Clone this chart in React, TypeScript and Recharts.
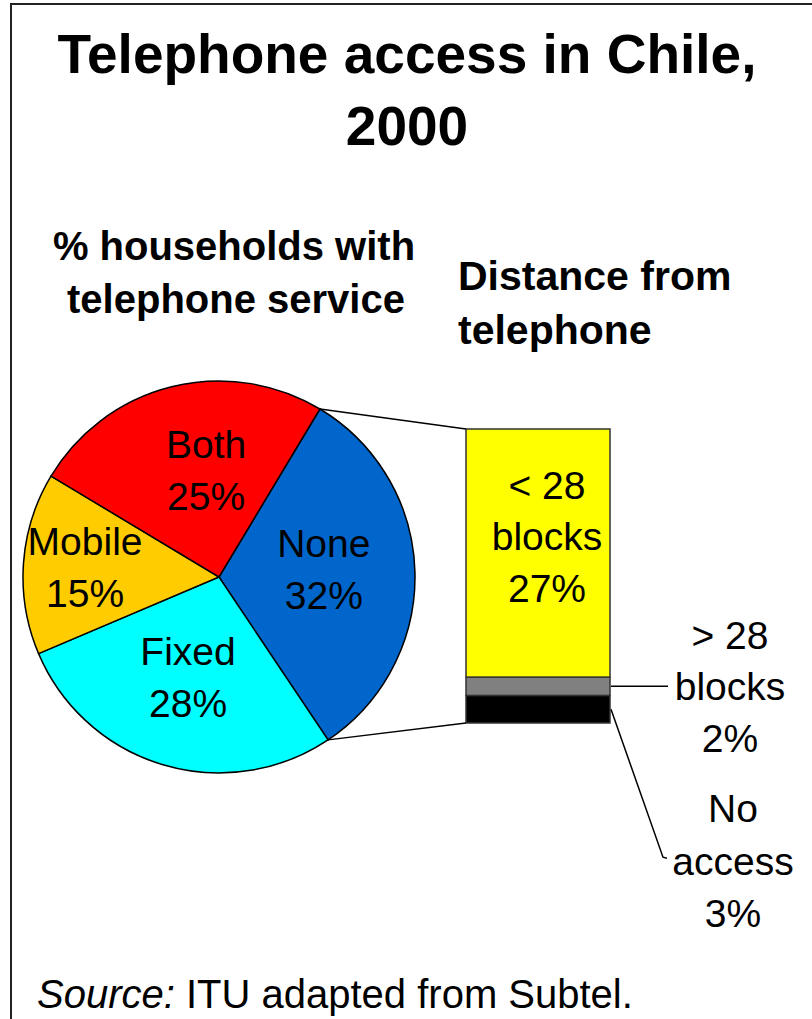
import React from "react";
import { PieChart, Pie, Cell, BarChart, Bar, XAxis, YAxis } from "recharts";

// % households with telephone service (pie, drawn clockwise from the top-right)
const ACCESS_LABELS = ["None", "Fixed", "Mobile", "Both"];
const ACCESS_SHARES = [32, 28, 15, 25];
const ACCESS_COLORS = ["#0066CC", "#00FFFF", "#FFCC00", "#FF0000"];

// distance from telephone, breaking down the "None" slice
const DISTANCE_KEYS = ["noAccess", "over28", "under28"];
const DISTANCE_LINES = [["No", "access"], ["> 28", "blocks"], ["< 28", "blocks"]];
const DISTANCE_SHARES = [3, 2, 27];
const DISTANCE_COLORS = ["#000000", "#808080", "#FFFF00"];

const FONT = "'Liberation Sans', Arial, sans-serif";
const W = 812;
const H = 1019;

// pie geometry
const CX = 219;
const CY = 577;
const R = 196;
const START = 59;
const RAD = Math.PI / 180;
// label radius / angle nudge per slice
const LABEL_POLAR: [number, number][] = [
  [105, -4.7],
  [118, 1.4],
  [134, 5.7],
  [94, -6.1],
];

// bar plot area
const BAR_LEFT = 466;
const BAR_RIGHT = 610;
const BAR_TOP = 429;
const BAR_BOTTOM = 723;

const pieData = ACCESS_LABELS.map((name, i) => ({ name, value: ACCESS_SHARES[i] }));
const barRow: Record<string, number | string> = { name: "distance" };
DISTANCE_KEYS.forEach((k, i) => {
  barRow[k] = DISTANCE_SHARES[i];
});
const barTotal = DISTANCE_SHARES.reduce((a, b) => a + b, 0);
const pieTotal = ACCESS_SHARES.reduce((a, b) => a + b, 0);

function renderSliceLabel(props: any) {
  const { midAngle, index } = props;
  const [r, da] = LABEL_POLAR[index];
  const a = (midAngle + da) * RAD;
  const x = CX + r * Math.cos(a);
  const y = CY - r * Math.sin(a);
  return (
    <text textAnchor="middle" fontSize={39} fontFamily={FONT} fill="#000">
      <tspan x={x} y={y - 26}>{ACCESS_LABELS[index]}</tspan>
      <tspan x={x} y={y + 26}>{ACCESS_SHARES[index]}%</tspan>
    </text>
  );
}

function segmentRect(p: any, fill: string) {
  return (
    <rect
      x={p.x}
      y={p.y}
      width={p.width}
      height={p.height}
      fill={fill}
      stroke="#333"
      strokeWidth={1.5}
    />
  );
}

function makeShape(i: number) {
  return (p: any) => {
    const right = p.x + p.width;
    const mid = p.y + p.height / 2;
    const share = DISTANCE_SHARES[i];
    const [l1, l2] = DISTANCE_LINES[i];
    const textProps = { textAnchor: "middle" as const, fontSize: 39, fontFamily: FONT, fill: "#000" };
    if (i === 2) {
      const tx = p.x + p.width / 2 + 9;
      return (
        <g>
          {segmentRect(p, DISTANCE_COLORS[i])}
          <text {...textProps}>
            <tspan x={tx} y={mid - 54}>{l1}</tspan>
            <tspan x={tx} y={mid - 3}>{l2}</tspan>
            <tspan x={tx} y={mid + 49}>{share}%</tspan>
          </text>
        </g>
      );
    }
    if (i === 1) {
      const tx = right + 120;
      return (
        <g>
          {segmentRect(p, DISTANCE_COLORS[i])}
          <line x1={right + 1} y1={mid} x2={right + 58} y2={mid} stroke="#000" strokeWidth={1.5} />
          <text {...textProps}>
            <tspan x={tx} y={mid - 37}>{l1}</tspan>
            <tspan x={tx} y={mid + 14}>{l2}</tspan>
            <tspan x={tx} y={mid + 66}>{share}%</tspan>
          </text>
        </g>
      );
    }
    const tx = right + 123;
    return (
      <g>
        {segmentRect(p, DISTANCE_COLORS[i])}
        <polyline
          points={`${right + 1},${mid} ${right + 53},${mid + 148} ${right + 57},${mid + 149}`}
          fill="none"
          stroke="#000"
          strokeWidth={1.5}
        />
        <text {...textProps}>
          <tspan x={tx} y={mid + 113}>{l1}</tspan>
          <tspan x={tx} y={mid + 166}>{l2}</tspan>
          <tspan x={tx} y={mid + 218}>{share}%</tspan>
        </text>
      </g>
    );
  };
}

export default function App() {
  const sweep = (360 * ACCESS_SHARES[0]) / pieTotal;
  const a0 = START * RAD;
  const a1 = (START - sweep) * RAD;
  const p0 = [CX + R * Math.cos(a0), CY - R * Math.sin(a0)];
  const p1 = [CX + R * Math.cos(a1), CY - R * Math.sin(a1)];
  const layer: React.CSSProperties = { position: "absolute", left: 0, top: 0 };

  return (
    <div style={{ position: "absolute", left: 0, top: 0, width: W, height: H, background: "#fff", overflow: "hidden" }}>
      <div style={layer}>
        <PieChart width={W} height={H} margin={{ top: 0, right: 0, bottom: 0, left: 0 }}>
          <Pie
            data={pieData}
            dataKey="value"
            nameKey="name"
            cx={CX}
            cy={CY}
            outerRadius={R}
            startAngle={START}
            endAngle={START - 360}
            stroke="#000"
            strokeWidth={1.5}
            label={renderSliceLabel}
            labelLine={false}
            isAnimationActive={false}
          >
            {pieData.map((d, i) => (
              <Cell key={d.name} fill={ACCESS_COLORS[i]} />
            ))}
          </Pie>
        </PieChart>
      </div>

      <div style={layer}>
        <BarChart
          width={W}
          height={H}
          data={[barRow]}
          margin={{ top: BAR_TOP, left: BAR_LEFT, right: W - BAR_RIGHT, bottom: H - BAR_BOTTOM }}
          barCategoryGap={0}
          barGap={0}
        >
          <XAxis dataKey="name" type="category" hide />
          <YAxis type="number" domain={[0, barTotal]} hide />
          {DISTANCE_KEYS.map((k, i) => (
            <Bar
              key={k}
              dataKey={k}
              stackId="d"
              fill={DISTANCE_COLORS[i]}
              shape={makeShape(i)}
              isAnimationActive={false}
            />
          ))}
        </BarChart>
      </div>

      <svg width={W} height={H} style={{ ...layer, pointerEvents: "none" }}>
        {/* frame */}
        <polyline points={`${W},4 11,4 11,${H}`} fill="none" stroke="#222" strokeWidth={2} />

        {/* zoom connectors from the None slice to the bar */}
        <line x1={p0[0]} y1={p0[1]} x2={BAR_LEFT} y2={BAR_TOP} stroke="#000" strokeWidth={1.5} />
        <line x1={p1[0]} y1={p1[1]} x2={BAR_LEFT} y2={BAR_BOTTOM} stroke="#000" strokeWidth={1.5} />

        <g fontFamily={FONT} fill="#000">
          <text textAnchor="middle" fontSize={55} fontWeight="bold">
            <tspan x={407} y={73}>Telephone access in Chile,</tspan>
            <tspan x={407} y={145}>2000</tspan>
          </text>
          <text textAnchor="middle" fontSize={40} fontWeight="bold">
            <tspan x={234} y={260}>% households with</tspan>
            <tspan x={236} y={313}>telephone service</tspan>
          </text>
          <text textAnchor="start" fontSize={41} fontWeight="bold">
            <tspan x={458} y={290}>Distance from</tspan>
            <tspan x={458} y={344}>telephone</tspan>
          </text>
          <text x={37} y={1008} fontSize={40}>
            <tspan fontStyle="italic">Source:</tspan> ITU adapted from Subtel.
          </text>
        </g>
      </svg>
    </div>
  );
}
